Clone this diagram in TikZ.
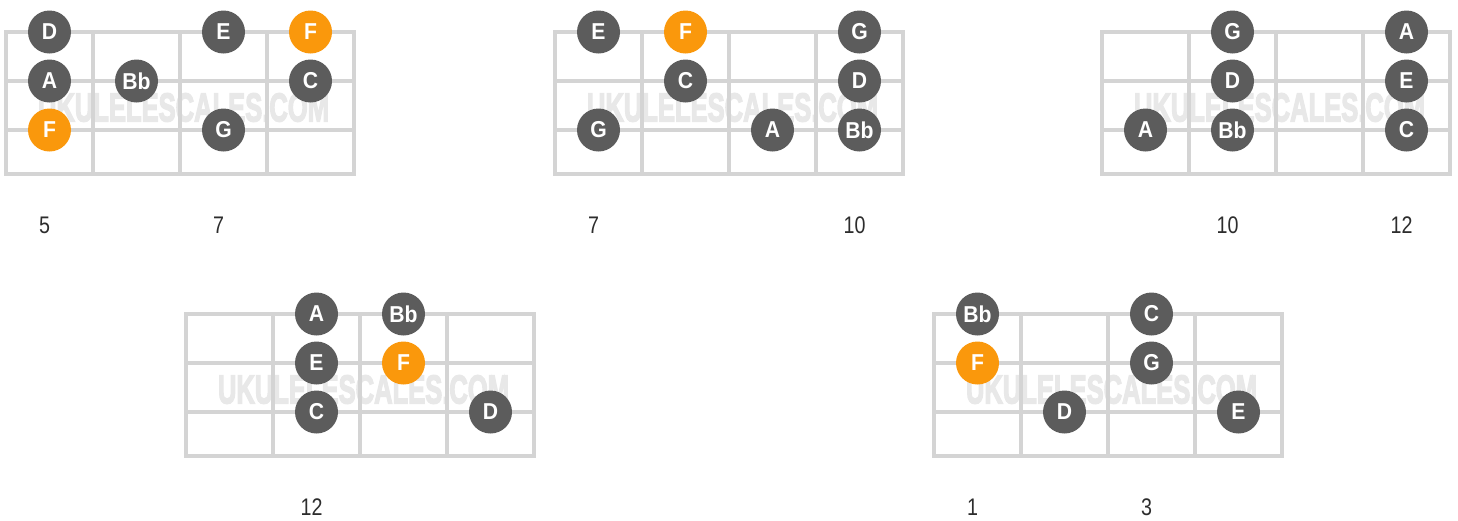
\documentclass[tikz,border=0pt]{standalone}
\usepackage{fontspec}
\setmainfont{Liberation Sans}
\newfontfamily\numfont[FakeStretch=0.82]{Liberation Sans}
\newfontfamily\notefont[FakeStretch=0.92]{Liberation Sans}
\newfontfamily\wmfont[UprightFont={* Bold},FakeBold=4]{Liberation Sans}
\definecolor{gridgray}{RGB}{212,212,212}
\definecolor{dotgray}{RGB}{92,92,92}
\definecolor{dotorange}{RGB}{250,152,12}
\definecolor{wmgray}{RGB}{232,232,232}
\definecolor{numgray}{RGB}{45,45,45}
\tikzset{
  note/.style={circle, fill=dotgray, minimum size=43pt, inner sep=0pt, text=white, font=\notefont\fontsize{23}{23}\selectfont\bfseries},
  rootnote/.style={note, fill=dotorange},
  fretnum/.style={text=numgray, font=\numfont\fontsize{24}{24}\selectfont, inner sep=0pt},
  gridline/.style={draw=gridgray, line width=3.5pt},
  watermark/.style={text=wmgray, inner sep=0pt}
}
\newcommand\fretboard[3]{%
  \node[watermark] (#1wm) at (#2+177.5,#3+75.5) {\resizebox{291pt}{28pt}{\wmfont UKULELESCALES.COM}};
  \draw[gridline] (#2,#3) rectangle (#2+348,#3+142);
  \foreach \k in {87,174,261} \draw[gridline] (#2+\k,#3) -- (#2+\k,#3+142);
  \foreach \k in {49,98} \draw[gridline] (#2,#3+\k) -- (#2+348,#3+\k);
}
\begin{document}
\begin{tikzpicture}[x=1pt,y=-1pt]
\useasboundingbox (0,0) rectangle (1458,520);
% boards
\fretboard{b1}{6}{32}
\fretboard{b2}{555}{32}
\fretboard{b3}{1102}{32}
\fretboard{b4}{186}{314}
\fretboard{b5}{934}{314}
% board 1
\node[note] (a1) at (49.5,32) {D};
\node[note] (a2) at (223.5,32) {E};
\node[rootnote] (a3) at (310.5,32) {F};
\node[note] (a4) at (49.5,81) {A};
\node[note] (a5) at (136.5,81) {Bb};
\node[note] (a6) at (310.5,81) {C};
\node[rootnote] (a7) at (49.5,130) {F};
\node[note] (a8) at (223.5,130) {G};
\node[fretnum] (al1) at (44.5,225) {5};
\node[fretnum] (al2) at (218.5,225) {7};
% board 2
\node[note] (b1n1) at (598.5,32) {E};
\node[rootnote] (b1n2) at (685.5,32) {F};
\node[note] (b1n3) at (859.5,32) {G};
\node[note] (b1n4) at (685.5,81) {C};
\node[note] (b1n5) at (859.5,81) {D};
\node[note] (b1n6) at (598.5,130) {G};
\node[note] (b1n7) at (772.5,130) {A};
\node[note] (b1n8) at (859.5,130) {Bb};
\node[fretnum] (bl1) at (593.5,225) {7};
\node[fretnum] (bl2) at (854.5,225) {10};
% board 3
\node[note] (c1) at (1232.5,32) {G};
\node[note] (c2) at (1406.5,32) {A};
\node[note] (c3) at (1232.5,81) {D};
\node[note] (c4) at (1406.5,81) {E};
\node[note] (c5) at (1145.5,130) {A};
\node[note] (c6) at (1232.5,130) {Bb};
\node[note] (c7) at (1406.5,130) {C};
\node[fretnum] (cl1) at (1227.5,225) {10};
\node[fretnum] (cl2) at (1401.5,225) {12};
% board 4
\node[note] (d1) at (316.5,314) {A};
\node[note] (d2) at (403.5,314) {Bb};
\node[note] (d3) at (316.5,363) {E};
\node[rootnote] (d4) at (403.5,363) {F};
\node[note] (d5) at (316.5,412) {C};
\node[note] (d6) at (490.5,412) {D};
\node[fretnum] (dl1) at (311.5,507) {12};
% board 5
\node[note] (e1) at (977.5,314) {Bb};
\node[note] (e2) at (1151.5,314) {C};
\node[rootnote] (e3) at (977.5,363) {F};
\node[note] (e4) at (1151.5,363) {G};
\node[note] (e5) at (1064.5,412) {D};
\node[note] (e6) at (1238.5,412) {E};
\node[fretnum] (el1) at (972.5,507) {1};
\node[fretnum] (el2) at (1146.5,507) {3};
\end{tikzpicture}
\end{document}
